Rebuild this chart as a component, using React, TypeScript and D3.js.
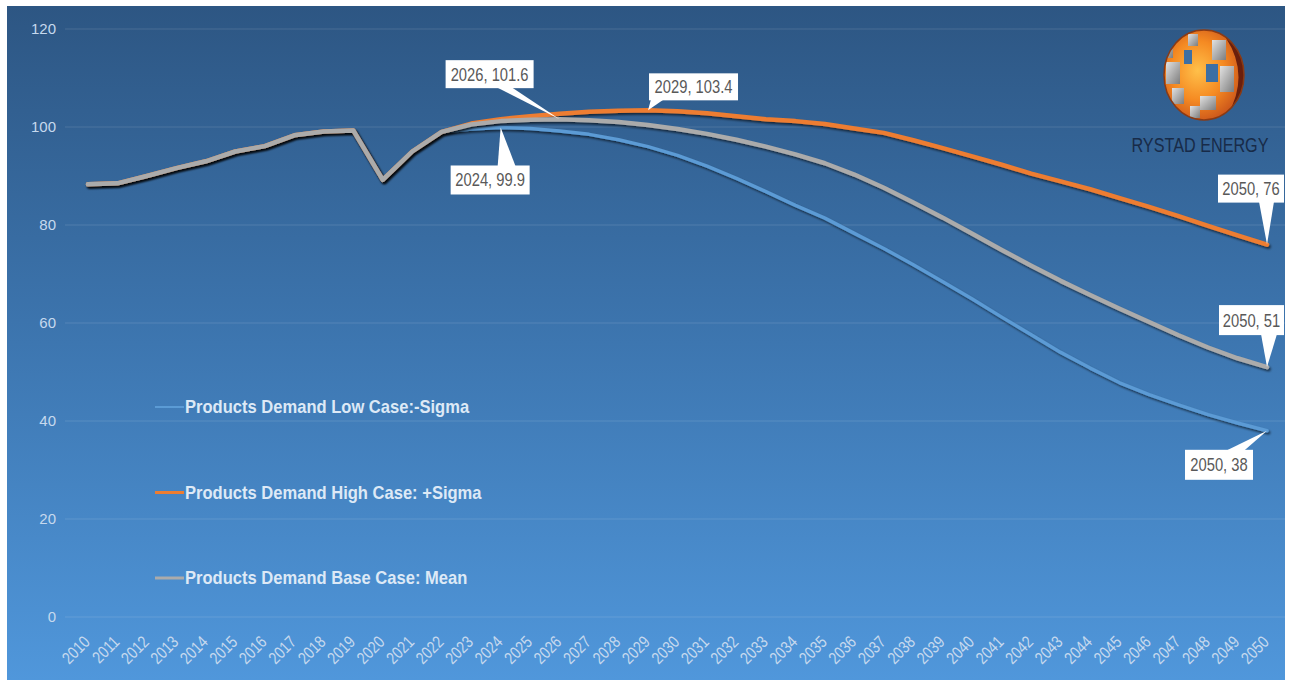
import React from 'react';
import * as d3 from 'd3';

// years on the category axis
const YEARS = [
  2010, 2011, 2012, 2013, 2014, 2015, 2016, 2017, 2018, 2019, 2020,
  2021, 2022, 2023, 2024, 2025, 2026, 2027, 2028, 2029, 2030,
  2031, 2032, 2033, 2034, 2035, 2036, 2037, 2038, 2039, 2040,
  2041, 2042, 2043, 2044, 2045, 2046, 2047, 2048, 2049, 2050,
];

// 2010-2022, shared by all three cases
const HISTORY = [88.3, 88.5, 90.0, 91.6, 93.0, 95.0, 96.1, 98.3, 99.1, 99.3, 89.2, 95.0, 99.0];

// 2023-2050 projections
const LOW_CASE = [
  99.6, 99.9, 99.7, 99.2, 98.5, 97.4, 96.0, 94.2, 92.0, 89.5,
  86.8, 84.0, 81.4, 78.3, 75.2, 71.9, 68.4, 64.9, 61.2, 57.6,
  54.0, 50.8, 47.8, 45.4, 43.3, 41.3, 39.6, 38.0,
];
const HIGH_CASE = [
  100.7, 101.6, 102.2, 102.7, 103.1, 103.3, 103.4, 103.2, 102.8, 102.2,
  101.6, 101.2, 100.6, 99.7, 98.8, 97.3, 95.7, 94.0, 92.3, 90.5,
  88.9, 87.3, 85.5, 83.7, 81.8, 79.8, 77.9, 76.0,
];
const BASE_CASE = [
  100.5, 101.2, 101.5, 101.6, 101.4, 101.0, 100.4, 99.6, 98.6, 97.4,
  96.0, 94.4, 92.6, 90.3, 87.6, 84.6, 81.5, 78.2, 74.9, 71.7,
  68.6, 65.7, 62.9, 60.2, 57.5, 55.0, 52.8, 51.0,
];

const Y_TICKS = [0, 20, 40, 60, 80, 100, 120];

const SERIES = [
  { key: 'low', name: 'Products Demand Low Case:-Sigma', color: '#5b9bd5', width: 3.5, values: [...HISTORY, ...LOW_CASE] },
  { key: 'high', name: 'Products Demand High Case: +Sigma', color: '#ed7d31', width: 4.5, values: [...HISTORY, ...HIGH_CASE] },
  { key: 'base', name: 'Products Demand Base Case: Mean', color: '#ababab', width: 4.5, values: [...HISTORY, ...BASE_CASE] },
];

const CALLOUTS = [
  { series: 'base', year: 2026, label: '2026, 101.6' },
  { series: 'high', year: 2029, label: '2029, 103.4' },
  { series: 'low', year: 2024, label: '2024, 99.9' },
  { series: 'high', year: 2050, label: '2050, 76' },
  { series: 'base', year: 2050, label: '2050, 51' },
  { series: 'low', year: 2050, label: '2050, 38' },
];

// box placement relative to the point: dx, dy, w, h, pointer base (from box left), side
const CALLOUT_LAYOUT: Record<string, [number, number, number, number, number, number, 'top' | 'bottom']> = {
  '2026, 101.6': [-114, -59, 88, 28, 51, 66, 'bottom'],
  '2029, 103.4': [1, -37, 89, 27, 2, 15, 'bottom'],
  '2024, 99.9': [-50, 38, 79, 29, 47, 65, 'top'],
  '2050, 76': [-49, -70, 66, 28, 41, 56, 'bottom'],
  '2050, 51': [-48, -62, 65, 30, 42, 58, 'bottom'],
  '2050, 38': [-82, 19, 68, 30, 41, 59, 'top'],
};

const W = 1289;
const H = 686;
const FONT = "'Liberation Sans', Arial, sans-serif";
const NARROW = 0.82; // squeeze to mimic a condensed face

export default function App() {
  const x = d3.scaleLinear().domain([2010, 2050]).range([88, 1267]);
  const y = d3.scaleLinear().domain([0, 120]).range([617, 29]);

  const line = d3.line<number>()
    .x((_, i) => x(YEARS[i]))
    .y(d => y(d))
    .curve(d3.curveLinear);

  const valueOf = (key: string, year: number) => {
    const s = SERIES.find(s => s.key === key)!;
    return s.values[YEARS.indexOf(year)];
  };

  return (
    <div>
      <style>{`body{margin:0;background:#fff}`}</style>
      <svg width={W} height={H} style={{ display: 'block' }}>
        <defs>
          <linearGradient id="bg" x1="0" y1="0" x2="0" y2="1">
            <stop offset="0" stopColor="#2d5683" />
            <stop offset="0.5" stopColor="#3d76b0" />
            <stop offset="1" stopColor="#5097db" />
          </linearGradient>
          <filter id="shadow" x="-5%" y="-20%" width="110%" height="140%">
            <feDropShadow dx="1.5" dy="2" stdDeviation="1.3" floodColor="#000" floodOpacity="0.6" />
          </filter>
          <radialGradient id="globe" cx="0.42" cy="0.45" r="0.6">
            <stop offset="0" stopColor="#ffc04a" />
            <stop offset="0.55" stopColor="#f58a22" />
            <stop offset="1" stopColor="#c9531a" />
          </radialGradient>
          <linearGradient id="steel" x1="0" y1="0" x2="1" y2="1">
            <stop offset="0" stopColor="#e2e2e2" />
            <stop offset="1" stopColor="#7d7d7d" />
          </linearGradient>
          <clipPath id="globeClip">
            <ellipse cx={1204} cy={75} rx={40} ry={45} />
          </clipPath>
        </defs>

        <rect x={7} y={6} width={1278} height={674} fill="url(#bg)" />

        {/* gridlines */}
        {Y_TICKS.map(t => (
          <line key={t} x1={65} x2={1285} y1={y(t)} y2={y(t)} stroke="#ffffff" strokeOpacity={0.13} strokeWidth={1} />
        ))}

        {/* y labels */}
        {Y_TICKS.map(t => (
          <text key={t} x={56} y={y(t)} dy="0.35em" textAnchor="end" fontFamily={FONT} fontSize={15} fill="#c6d9ee">
            {t}
          </text>
        ))}

        {/* x labels */}
        {YEARS.map(yr => (
          <text key={yr} transform={`translate(${x(yr) + 3},643) rotate(-45) scale(${NARROW},1)`} textAnchor="end"
            fontFamily={FONT} fontSize={17} fill="#c6d9ee">
            {yr}
          </text>
        ))}

        {/* logo */}
        <g>
          <ellipse cx={1204} cy={75} rx={40} ry={45} fill="url(#globe)" />
          <g clipPath="url(#globeClip)">
            <rect x={1163} y={40} width={10} height={18} fill="url(#steel)" />
            <rect x={1166} y={62} width={14} height={22} fill="url(#steel)" />
            <rect x={1172} y={88} width={12} height={16} fill="url(#steel)" />
            <rect x={1188} y={34} width={10} height={12} fill="url(#steel)" />
            <rect x={1184} y={50} width={8} height={14} fill="#3d6fa3" />
            <rect x={1212} y={40} width={14} height={20} fill="url(#steel)" />
            <rect x={1206} y={64} width={12} height={18} fill="#3d6fa3" />
            <rect x={1220} y={66} width={14} height={26} fill="url(#steel)" />
            <rect x={1200} y={96} width={16} height={14} fill="url(#steel)" />
            <rect x={1190} y={106} width={10} height={12} fill="url(#steel)" />
            <path d="M1226,38 Q1250,75 1228,114 L1250,114 L1250,38 Z" fill="#6a1f0c" />
          </g>
          <ellipse cx={1204} cy={75} rx={40} ry={45} fill="none" stroke="#8a3a14" strokeWidth={1.5} />
          <text transform="translate(1200,152) scale(0.81,1)" textAnchor="middle" fontFamily={FONT}
            fontSize={20} fill="#182b48">
            RYSTAD ENERGY
          </text>
        </g>

        {/* series */}
        {SERIES.map(s => (
          <path key={s.key} d={line(s.values) || ''} fill="none" stroke={s.color} strokeWidth={s.width}
            strokeLinejoin="round" strokeLinecap="round" filter="url(#shadow)" />
        ))}

        {/* legend */}
        {SERIES.map((s, i) => {
          const ly = 407 + i * 85.5;
          return (
            <g key={s.key}>
              <line x1={155} x2={184} y1={ly} y2={ly} stroke={s.color} strokeWidth={s.key === 'low' ? 2 : 3} />
              <text transform={`translate(185,${ly}) scale(0.92,1)`} dy="0.35em" fontFamily={FONT} fontSize={18}
                fontWeight="bold" fill="#dde9f6">
                {s.name}
              </text>
            </g>
          );
        })}

        {/* callouts */}
        {CALLOUTS.map(c => {
          const px = x(c.year);
          const py = y(valueOf(c.series, c.year));
          const [dx, dy, w, h, b0, b1, side] = CALLOUT_LAYOUT[c.label];
          const bx = px + dx;
          const by = py + dy;
          const ey = side === 'bottom' ? by + h - 1 : by + 1;
          return (
            <g key={c.label}>
              <path d={`M${bx + b0},${ey} L${px},${py} L${bx + b1},${ey} Z`} fill="#ffffff" />
              <rect x={bx} y={by} width={w} height={h} fill="#ffffff" />
              <text transform={`translate(${bx + w / 2},${by + h / 2}) scale(${NARROW},1)`} dy="0.36em"
                textAnchor="middle" fontFamily={FONT} fontSize={18} fill="#595959">
                {c.label}
              </text>
            </g>
          );
        })}
      </svg>
    </div>
  );
}
